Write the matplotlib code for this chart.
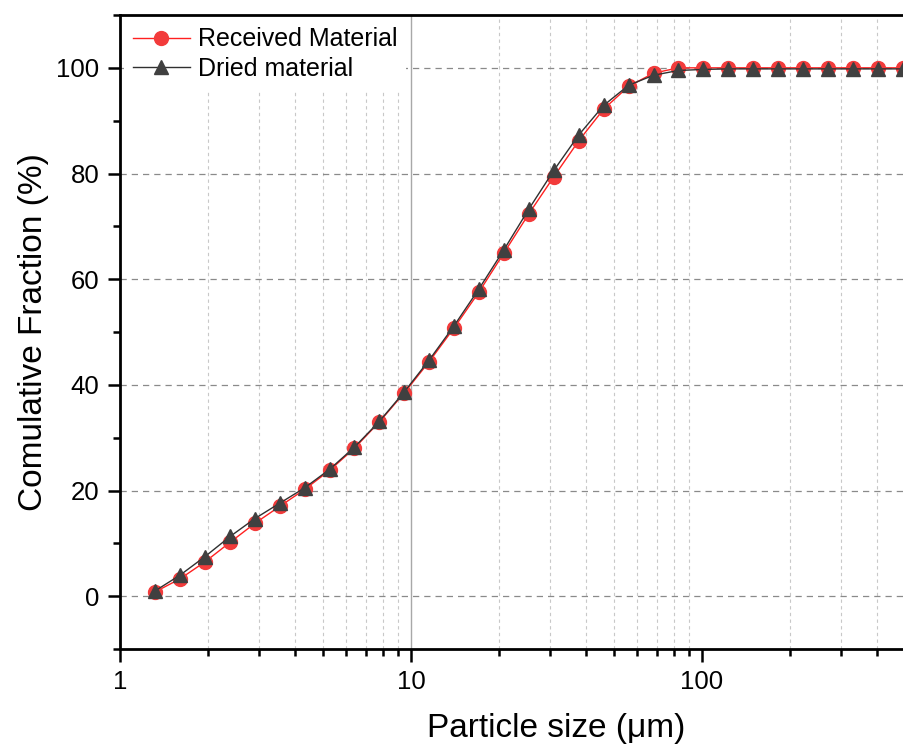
import numpy as np
import matplotlib
matplotlib.use("Agg")
import matplotlib.pyplot as plt
from matplotlib.ticker import LogLocator, FixedLocator, MultipleLocator, NullFormatter

plt.rcParams['font.family'] = ['Liberation Sans', 'DejaVu Sans']

# particle size classes (um)
size_um = [1.32, 1.61, 1.96, 2.39, 2.91, 3.54, 4.31, 5.25, 6.39, 7.79, 9.49,
           11.55, 14.07, 17.14, 20.88, 25.43, 30.97, 37.72, 45.95, 55.96, 68.16,
           83.02, 101.1, 123.2, 150.0, 182.7, 222.5, 271.1, 330.2, 402.1, 489.8]

received = [0.8, 3.3, 6.5, 10.2, 13.8, 17.0, 20.2, 23.8, 28.0, 33.0, 38.5,
            44.4, 50.8, 57.6, 65.0, 72.4, 79.4, 86.2, 92.2, 96.5, 99.0,
            100.0, 100.0, 100.0, 100.0, 100.0, 100.0, 100.0, 100.0, 100.0, 100.0]

dried = [1.0, 4.0, 7.5, 11.3, 14.7, 17.6, 20.5, 24.0, 28.2, 33.1, 38.7,
         44.7, 51.2, 58.2, 65.6, 73.3, 80.6, 87.3, 92.9, 96.7, 98.6,
         99.5, 99.7, 99.8, 99.8, 99.8, 99.8, 99.8, 99.8, 99.8, 99.8]

x_ticks = [1, 10, 100]
x_labels = ['1', '10', '100']
y_ticks = [0, 20, 40, 60, 80, 100]

fig = plt.figure(figsize=(9.04, 7.47), dpi=100)
# axes runs past the right edge of the figure, so its right spine is cut off
ax = fig.add_axes([120 / 904, 98 / 747, 3 * 291 / 904, 634 / 747])

ax.plot(size_um, received, '-o', color='#ff2020', lw=1.0, ms=10,
        mfc='#f23b3b', mec='#f23b3b', label='Received Material', zorder=3)
ax.plot(size_um, dried, '-^', color='#303030', lw=1.0, ms=10,
        mfc='#404040', mec='#404040', label='Dried material', zorder=4)

ax.set_xscale('log')
ax.set_xlim(1, 1000)
ax.set_ylim(-10, 110)

ax.xaxis.set_minor_locator(LogLocator(base=10, subs=np.arange(2, 10), numticks=30))
ax.xaxis.set_minor_formatter(NullFormatter())
ax.set_xticks(x_ticks)
ax.set_xticklabels(x_labels)
ax.yaxis.set_major_locator(FixedLocator(y_ticks))
ax.yaxis.set_minor_locator(MultipleLocator(10))

# grid: horizontal dashed at major y ticks, light dashes at x minor ticks
ax.grid(True, which='major', axis='y', color='#8a8a8a', ls=(0, (5, 4)), lw=0.9)
ax.grid(True, which='minor', axis='x', color='#c8c8c8', ls=(0, (3, 3)), lw=0.8)
ax.axvline(10, color='#a8a8a8', lw=1.0, zorder=1)
ax.set_axisbelow(True)

for side in ['left', 'bottom', 'top']:
    ax.spines[side].set_linewidth(2.0)
ax.spines['right'].set_visible(False)

ax.tick_params(which='major', direction='out', length=9, width=1.8,
               labelsize=18.5, pad=6, top=False, right=False)
ax.tick_params(which='minor', direction='out', length=5, width=1.8,
               top=False, right=False)

ax.set_xlabel('Particle size (μm)', fontsize=24, labelpad=14)
ax.set_ylabel('Comulative Fraction (%)', fontsize=24, labelpad=5)

leg = ax.legend(loc='upper left', fontsize=18, frameon=True, fancybox=False,
                edgecolor='none', facecolor='white', framealpha=1.0,
                handlelength=2.3, handletextpad=0.3, borderaxespad=0.15,
                labelspacing=0.22, borderpad=0.35)
# white legend box sits over the grid but under the spines
leg.set_zorder(2)

fig.savefig('out.png', dpi=100)
